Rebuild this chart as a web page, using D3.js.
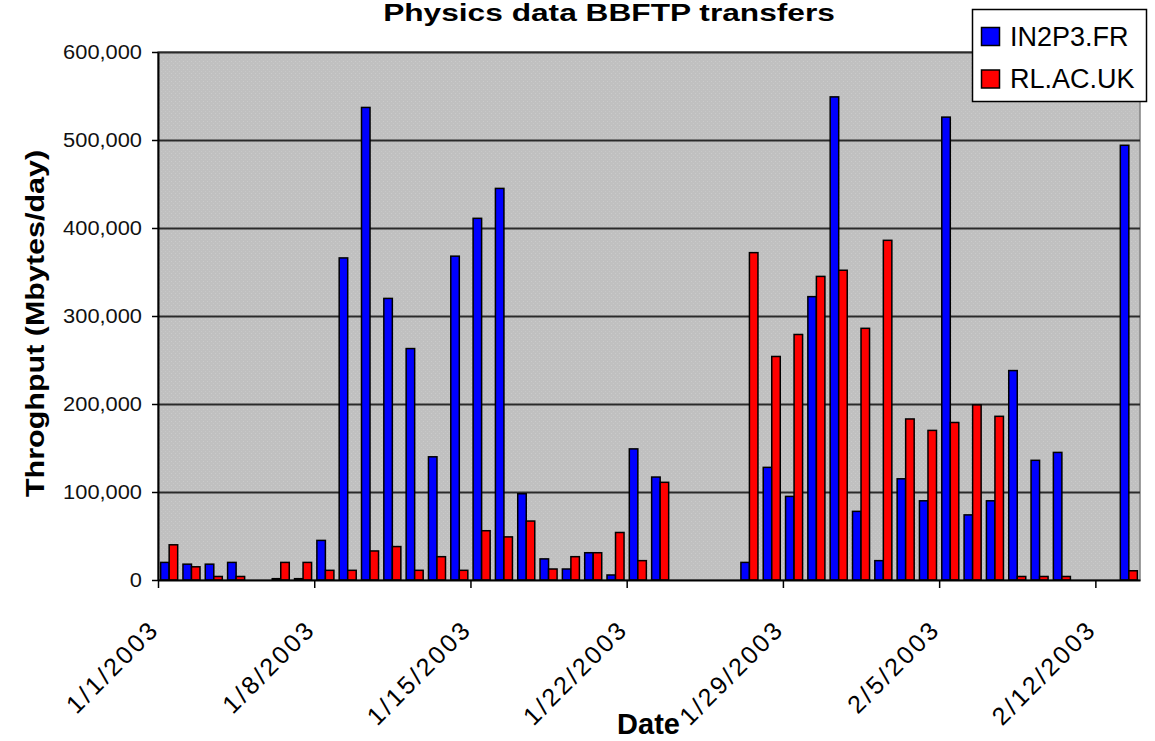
<!DOCTYPE html>
<html>
<head>
<meta charset="utf-8">
<script src="https://cdn.jsdelivr.net/npm/d3@7"></script>
<style>
body { margin: 0; background: #fff; }
svg { display: block; font-family: "Liberation Sans", Arial, sans-serif; }
</style>
</head>
<body>
<svg></svg>
<script>
// one category per day, 1/1/2003 .. 2/13/2003
var days = [
    "1/1/2003", "1/2/2003", "1/3/2003", "1/4/2003", "1/5/2003", "1/6/2003", "1/7/2003",
    "1/8/2003", "1/9/2003", "1/10/2003", "1/11/2003", "1/12/2003", "1/13/2003", "1/14/2003",
    "1/15/2003", "1/16/2003", "1/17/2003", "1/18/2003", "1/19/2003", "1/20/2003", "1/21/2003",
    "1/22/2003", "1/23/2003", "1/24/2003", "1/25/2003", "1/26/2003", "1/27/2003", "1/28/2003",
    "1/29/2003", "1/30/2003", "1/31/2003", "2/1/2003", "2/2/2003", "2/3/2003", "2/4/2003",
    "2/5/2003", "2/6/2003", "2/7/2003", "2/8/2003", "2/9/2003", "2/10/2003", "2/11/2003",
    "2/12/2003", "2/13/2003"
];
var weekTicks = ["1/1/2003", "1/8/2003", "1/15/2003", "1/22/2003", "1/29/2003", "2/5/2003", "2/12/2003"];
var yTicks = [0, 100000, 200000, 300000, 400000, 500000, 600000];

var seriesNames = ["IN2P3.FR", "RL.AC.UK"];
var seriesColors = ["#0000ff", "#ff0000"];

// Mbytes/day
var in2p3 = [
    20000, 18000, 18000, 20000, 0, 1500, 1500,
    45000, 366000, 537000, 320000, 263000, 140000, 368000,
    411000, 445000, 98000, 24000, 12500, 31000, 5700,
    149000, 117000, 0, 0, 0, 20000, 128000,
    95000, 322000, 549000, 78000, 22000, 115000, 90000,
    526000, 74000, 90000, 238000, 136000, 145000, 0,
    0, 494000
];
var rlac = [
    40000, 15000, 4000, 4000, 0, 20000, 20000,
    11000, 11000, 33000, 38000, 11000, 26500, 11000,
    56000, 49000, 67000, 12500, 26500, 31000, 54000,
    22000, 111000, 0, 0, 0, 372000, 254000,
    279000, 345000, 352000, 286000, 386000, 183000, 170000,
    179000, 199000, 186000, 4000, 4000, 4000, 0,
    0, 10500
];

var parseDay = d3.utcParse("%m/%d/%Y");
var formatDay = d3.utcFormat("%-m/%-d/%Y");

var data = days.map(function(d, i) {
    return { date: parseDay(d), values: [in2p3[i], rlac[i]] };
});

var svgWidth = 1155, svgHeight = 741;
var margin = { top: 52, right: 15, bottom: 161, left: 158 };
var width = svgWidth - margin.left - margin.right;
var height = svgHeight - margin.top - margin.bottom;

var svg = d3.select("svg")
    .attr("width", svgWidth)
    .attr("height", svgHeight);

// speckled grey plot background
var defs = svg.append("defs");
var pat = defs.append("pattern")
    .attr("id", "speckle")
    .attr("width", 4)
    .attr("height", 4)
    .attr("patternUnits", "userSpaceOnUse");
pat.append("rect").attr("width", 4).attr("height", 4).attr("fill", "#c0c0c0");
pat.append("rect").attr("x", 1).attr("y", 1).attr("width", 1).attr("height", 1).attr("fill", "#cbcbcb");
pat.append("rect").attr("x", 3).attr("y", 3).attr("width", 1).attr("height", 1).attr("fill", "#c8c8c8");

var g = svg.append("g")
    .attr("transform", "translate(" + margin.left + "," + margin.top + ")");

var first = data[0].date;
var x = d3.scaleUtc()
    .domain([first, d3.utcDay.offset(data[data.length - 1].date, 1)])
    .range([0, width]);
var dayWidth = x(d3.utcDay.offset(first, 1)) - x(first);

var xSeries = d3.scaleBand()
    .domain([0, 1])
    .range([0, dayWidth])
    .paddingInner(0)
    .paddingOuter(0.31);

var y = d3.scaleLinear()
    .domain([0, 600000])
    .range([height, 0]);

g.append("rect")
    .attr("width", width)
    .attr("height", height)
    .attr("fill", "url(#speckle)")
    .attr("stroke", "#808080")
    .attr("stroke-width", 1.5);

// gridlines
g.append("g")
    .call(d3.axisLeft(y).tickValues(yTicks.slice(1)).tickSize(-width).tickFormat(""))
    .call(function(s) { s.select(".domain").remove(); })
    .selectAll("line")
    .attr("stroke", "#2a2a2a")
    .attr("stroke-width", 2);

// bars
var day = g.selectAll(".day")
    .data(data)
    .enter().append("g")
    .attr("class", "day")
    .attr("transform", function(d) { return "translate(" + x(d.date) + ",0)"; });

day.selectAll("rect")
    .data(function(d) { return d.values.map(function(v, k) { return { k: k, value: v }; }).filter(function(e) { return e.value > 0; }); })
    .enter().append("rect")
    .attr("x", function(d) { return xSeries(d.k); })
    .attr("y", function(d) { return y(d.value); })
    .attr("width", xSeries.bandwidth())
    .attr("height", function(d) { return height - y(d.value); })
    .attr("fill", function(d) { return seriesColors[d.k]; })
    .attr("stroke", "#000")
    .attr("stroke-width", 1.5);

// y axis
var yAxis = g.append("g")
    .call(d3.axisLeft(y).tickValues(yTicks).tickFormat(d3.format(",")).tickSize(6).tickSizeOuter(0));
yAxis.select(".domain").attr("stroke", "#000").attr("stroke-width", 2);
yAxis.selectAll("line").attr("stroke", "#000").attr("stroke-width", 1.5);
yAxis.selectAll("text")
    .attr("x", 0)
    .attr("transform", "translate(-16,0) scale(1.12,1)")
    .attr("fill", "#111")
    .style("font-size", "19.5px");

// x axis
var xAxis = g.append("g")
    .attr("transform", "translate(0," + height + ")")
    .call(d3.axisBottom(x).tickValues(weekTicks.map(parseDay)).tickFormat(formatDay).tickSize(8).tickSizeOuter(0));
xAxis.select(".domain").attr("stroke", "#000").attr("stroke-width", 2);
xAxis.selectAll("line").attr("stroke", "#000").attr("stroke-width", 1.5);
xAxis.selectAll("text")
    .attr("x", 0)
    .attr("y", 0)
    .attr("dy", 0)
    .attr("text-anchor", "end")
    .attr("transform", "translate(2.2,50.8) rotate(-45)")
    .attr("fill", "#000")
    .style("font-size", "25px")
    .style("letter-spacing", "2.7px");

// titles
svg.append("text")
    .attr("transform", "translate(609,21) scale(1.32,1)")
    .attr("text-anchor", "middle")
    .style("font-size", "24px")
    .style("font-weight", "bold")
    .text("Physics data BBFTP transfers");

svg.append("text")
    .attr("transform", "translate(43.5,323.5) rotate(-90) scale(1.22,1)")
    .attr("text-anchor", "middle")
    .style("font-size", "25px")
    .style("font-weight", "bold")
    .text("Throghput (Mbytes/day)");

svg.append("text")
    .attr("x", 648.5)
    .attr("y", 734)
    .attr("text-anchor", "middle")
    .style("font-size", "29px")
    .style("font-weight", "bold")
    .text("Date");

// legend
var legend = svg.append("g").attr("transform", "translate(972.5,9.5)");
legend.append("rect")
    .attr("width", 174)
    .attr("height", 92)
    .attr("fill", "#fff")
    .attr("stroke", "#000")
    .attr("stroke-width", 1.5);

var item = legend.selectAll(".item")
    .data(seriesNames)
    .enter().append("g")
    .attr("class", "item")
    .attr("transform", function(d, i) { return "translate(0," + (18 + i * 42.5) + ")"; });

item.append("rect")
    .attr("x", 9)
    .attr("width", 18)
    .attr("height", 18)
    .attr("fill", function(d, i) { return seriesColors[i]; })
    .attr("stroke", "#000")
    .attr("stroke-width", 1.5);

item.append("text")
    .attr("x", 37.5)
    .attr("y", 18)
    .style("font-size", "27px")
    .text(function(d) { return d; });
</script>
</body>
</html>
